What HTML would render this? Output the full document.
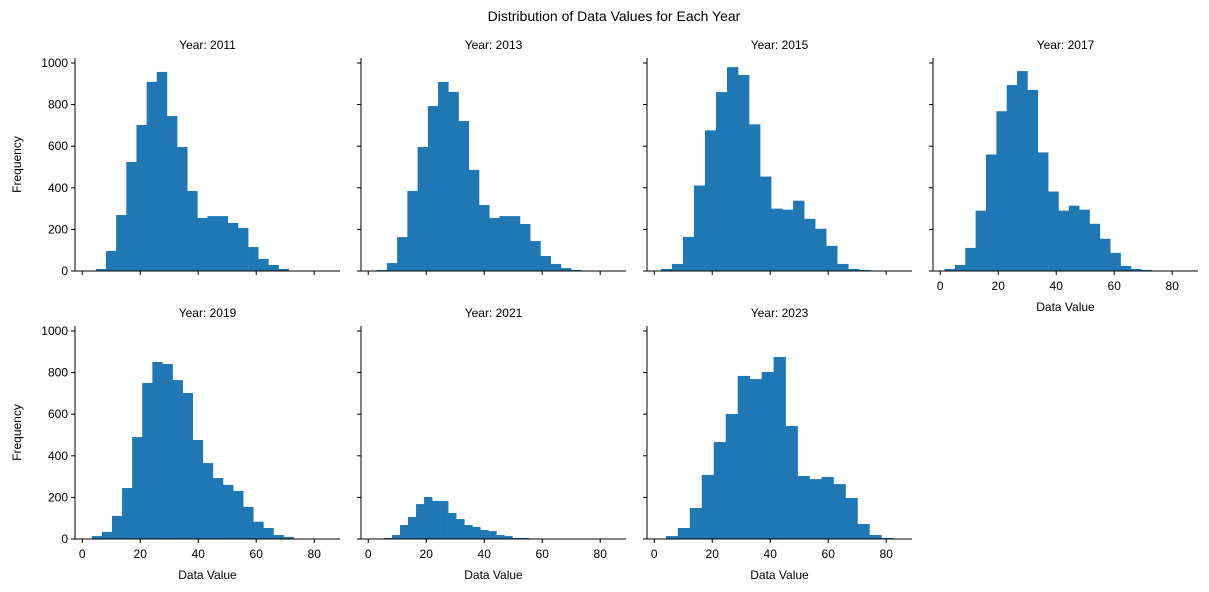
<!DOCTYPE html>
<html><head><meta charset="utf-8"><style>
body{margin:0;background:#fff;}
svg{display:block;font-family:"Liberation Sans","DejaVu Sans",sans-serif;}
</style></head><body>
<svg id="chart" width="1209" height="592" viewBox="0 0 1209 592">
<text x="614" y="21" text-anchor="middle" font-size="14">Distribution of Data Values for Each Year</text>
</svg>
<script>
const years = ["2011","2013","2015","2017","2019","2021","2023"];
const binStarts = [4.7, 2.9, 2.3, 1.5, 3.3, 5.4, 4.0];
const binWidths = [3.5, 3.53, 3.8, 3.57, 3.48, 2.77, 4.13];
const counts2011 = [10,96,269,524,702,909,957,745,596,385,255,264,264,231,207,115,58,29,10,2];
const counts2013 = [5,38,163,385,596,793,909,861,721,486,317,255,264,264,226,144,72,34,14,5];
const counts2015 = [10,34,164,411,676,860,980,942,705,454,300,295,338,251,203,121,34,10,5,1];
const counts2017 = [10,29,111,290,560,768,894,961,870,570,382,290,314,295,227,155,87,24,10,5];
const counts2019 = [14,34,111,245,490,750,851,841,764,702,476,365,293,260,231,154,83,53,19,10];
const counts2021 = [5,19,67,106,168,202,183,183,125,96,67,58,43,38,19,14,5,5,2,2];
const counts2023 = [14,53,149,308,466,601,784,769,803,875,543,303,288,298,264,197,72,19,5,1];
const allCounts = [counts2011,counts2013,counts2015,counts2017,counts2019,counts2021,counts2023];
const xTicks = [0,20,40,60,80];
const yTicks = [0,200,400,600,800,1000];
const xMin = -2.5, xMax = 88.9, yMax = 1024;

const NS = "http://www.w3.org/2000/svg";
const svg = document.getElementById("chart");
function mk(tag, attrs, parent){const e=document.createElementNS(NS,tag);for(const k in attrs)e.setAttribute(k,attrs[k]);(parent||svg).appendChild(e);return e;}

const colLeft = [75,361,647,933], W = 265, H = 213;
const rowBottom = [271,539];
years.forEach((yr,i)=>{
  const r = Math.floor(i/4), c = i%4;
  const L = colLeft[c], B = rowBottom[r], T = B-H;
  const xs = v => L + (v-xMin)/(xMax-xMin)*W;
  const ys = v => B - v/yMax*H;
  const g = mk("g",{});
  
  
  const cnt = allCounts[i];
  cnt.forEach((v,j)=>{
    const x0 = xs(binStarts[i]+j*binWidths[i]), x1 = xs(binStarts[i]+(j+1)*binWidths[i]);
    const rect = mk("rect",{x:x0,y:ys(v),width:x1-x0+0.3,height:B-ys(v),fill:"#1f77b4"},g);
    
    
  });
  mk("line",{x1:L,y1:T,x2:L,y2:B,stroke:"#000","stroke-width":1},g);
  mk("line",{x1:L,y1:B,x2:L+W,y2:B,stroke:"#000","stroke-width":1},g);
  const showX = (r===1 || i===3);
  xTicks.forEach(t=>{
    const x = xs(t);
    mk("line",{x1:x,y1:B,x2:x,y2:B+4,stroke:"#000"},g);
    if(showX){const tx=mk("text",{x:x,y:B+19,"text-anchor":"middle","font-size":"12"},g);tx.textContent=t;
      
      }
  });
  yTicks.forEach(t=>{
    const y = ys(t);
    mk("line",{x1:L-4,y1:y,x2:L,y2:y,stroke:"#000"},g);
    if(c===0){const tx=mk("text",{x:L-7,y:y+4,"text-anchor":"end","font-size":"12"},g);tx.textContent=t;
      
      }
  });
  const tt = mk("text",{x:L+W/2,y:T-9,"text-anchor":"middle","font-size":"12"},g);
  tt.textContent = "Year: " + yr;
  
  
  if(showX){const xl=mk("text",{x:L+W/2,y:B+40,"text-anchor":"middle","font-size":"12"},g);xl.textContent="Data Value";
    
    }
  if(c===0){const yl=mk("text",{x:0,y:0,"text-anchor":"middle","font-size":"12",transform:"translate(21,"+(T+H/2)+") rotate(-90)"},g);yl.textContent="Frequency";
    
    }
});
</script>
</body></html>
